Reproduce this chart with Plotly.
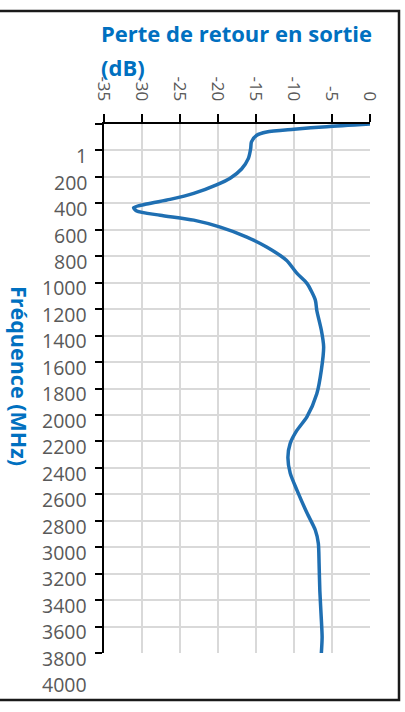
import plotly.graph_objects as go

# Output return loss (dB) versus frequency (MHz)
freq_mhz = [-240, -220, -200, -180, -155, -105, -55, 20, 100, 170, 220, 285, 330,
            365, 392, 418, 450, 487, 540, 615, 690, 790, 890, 965, 1090, 1170,
            1320, 1445, 1620, 1800, 1975, 2075, 2175, 2280, 2400, 2530, 2700,
            2830, 2930, 3080, 3290, 3510, 3640, 3760]
return_loss_db = [0.0, -5.7, -10.0, -13.6, -14.9, -15.6, -15.7, -16.0, -16.9, -18.4,
                  -20.2, -23.2, -26.3, -29.4, -31.1, -30.7, -27.6, -23.2, -19.7,
                  -16.2, -13.6, -11.0, -9.6, -8.3, -7.2, -7.0, -6.4, -6.1, -6.4,
                  -7.0, -8.3, -9.6, -10.5, -10.8, -10.5, -9.6, -8.3, -7.2, -6.8,
                  -6.7, -6.6, -6.4, -6.3, -6.4]

freq_labels = [1, 200, 400, 600, 800, 1000, 1200, 1400, 1600, 1800, 2000, 2200,
               2400, 2600, 2800, 3000, 3200, 3400, 3600, 3800, 4000]
db_ticks = [-35, -30, -25, -20, -15, -10, -5, 0]

title_x = "Perte de retour en sortie"
title_x_unit = "(dB)"
title_y = "Fréquence (MHz)"

W, H = 405, 712
# plot area in pixels
px_left, px_right, px_top, px_bottom = 104, 370, 124, 653
freq_top, freq_bottom = -240, 3760
grid_step = 200

def fx(p):
    return p / W

def fy(p):
    return 1 - p / H

px_per_mhz = (px_bottom - px_top) / (freq_bottom - freq_top)
grid_vals = [freq_top + grid_step * k for k in range(int((freq_bottom - freq_top) / grid_step) + 1)]

def freq_to_paper(f):
    return fy(px_top + (f - freq_top) * px_per_mhz)

FONT = "Open Sans"
BLUE = "#0070C0"
GREY = "#595959"
GRID = "#D9D9D9"

fig = go.Figure()
fig.add_trace(go.Scatter(
    x=return_loss_db, y=freq_mhz, mode="lines",
    line=dict(color="#1F6FB2", width=3.5, shape="spline", smoothing=0.7),
    showlegend=False,
))

# frequency labels sit along the left edge, continuing below the plot area
label_annotations = [
    dict(text=str(v), xref="paper", yref="paper", x=fx(89), y=freq_to_paper(v),
         xanchor="right", yanchor="middle", showarrow=False,
         font=dict(family=FONT, size=19.5, color=GREY))
    for v in freq_labels
]

fig.update_layout(
    width=W, height=H,
    margin=dict(l=0, r=0, t=0, b=0, autoexpand=False),
    paper_bgcolor="white", plot_bgcolor="white",
    font=dict(family=FONT, color=GREY, size=16),
    xaxis=dict(
        domain=[fx(px_left), fx(px_right)],
        side="top", range=[-35, 0], tickvals=db_ticks,
        ticktext=[str(v) for v in db_ticks],
        tickangle=90, tickfont=dict(size=17, color=GREY),
        showgrid=True, gridcolor=GRID, gridwidth=1.5,
        showline=True, linecolor="black", linewidth=1.5,
        ticks="outside", ticklen=8, tickwidth=1.5, tickcolor="black",
        ticklabelstandoff=7, automargin=False,
        zeroline=False, fixedrange=True,
    ),
    yaxis=dict(
        domain=[fy(px_bottom), fy(px_top)],
        range=[freq_bottom, freq_top], tickvals=grid_vals,
        showticklabels=False, automargin=False,
        showgrid=True, gridcolor=GRID, gridwidth=1.5,
        showline=True, linecolor="black", linewidth=1.5,
        ticks="outside", ticklen=7, tickwidth=1.5, tickcolor="black",
        zeroline=False, fixedrange=True,
    ),
    annotations=label_annotations + [
        dict(text=title_x, xref="paper", yref="paper", x=fx(99), y=fy(33),
             xanchor="left", yanchor="middle", showarrow=False,
             font=dict(family=FONT, size=22, color=BLUE, weight="bold")),
        dict(text=title_x_unit, xref="paper", yref="paper", x=fx(99), y=fy(67),
             xanchor="left", yanchor="middle", showarrow=False,
             font=dict(family=FONT, size=22, color=BLUE, weight="bold")),
        dict(text=title_y, xref="paper", yref="paper", x=fx(19), y=fy(376),
             xanchor="center", yanchor="middle", showarrow=False, textangle=90,
             font=dict(family=FONT, size=21.5, color=BLUE, weight="bold")),
    ],
    shapes=[
        dict(type="rect", xref="paper", yref="paper",
             x0=fx(-6), x1=fx(399), y0=fy(700), y1=fy(11),
             line=dict(color="#1a1a1a", width=2.5)),
    ],
)

fig.write_html("out.html")
